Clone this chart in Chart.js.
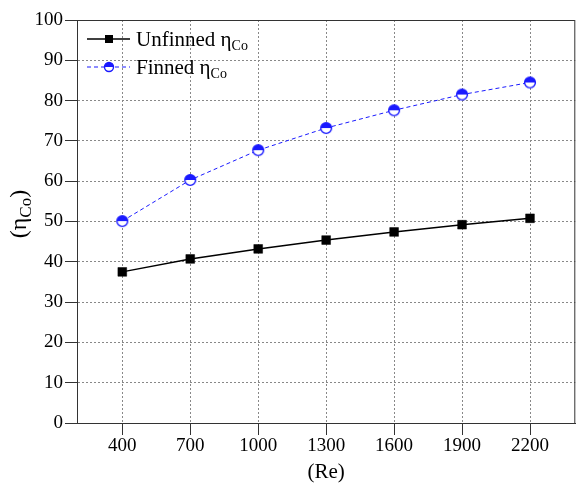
<!DOCTYPE html>
<html>
<head>
<meta charset="utf-8">
<script src="https://cdn.jsdelivr.net/npm/chart.js@4.4.0/dist/chart.umd.min.js"></script>
<style>
  html, body { margin: 0; padding: 0; background: #fff; }
</style>
</head>
<body>
<canvas id="effChart" width="582" height="488"></canvas>
<script>
// data
const reynolds = [400, 700, 1000, 1300, 1600, 1900, 2200];
const unfinnedEff = [37.5, 40.7, 43.2, 45.4, 47.4, 49.2, 50.8];
const finnedEff = [50.1, 60.3, 67.7, 73.2, 77.6, 81.5, 84.5];
const seriesNames = ["Unfinned", "Finned"];

const SERIF = "'Liberation Serif', 'DejaVu Serif', serif";
const BLUE = "#1a1aff";
const AXIS = "#333";

// half filled circle marker (top half blue)
function halfCircle(r) {
  const c = document.createElement("canvas");
  const s = Math.ceil(r * 2 + 3);
  c.width = s; c.height = s;
  const g = c.getContext("2d");
  const m = s / 2;
  g.fillStyle = "#fff";
  g.beginPath(); g.arc(m, m, r, 0, Math.PI * 2); g.fill();
  g.fillStyle = BLUE;
  g.beginPath(); g.arc(m, m, r, Math.PI, 0); g.closePath(); g.fill();
  g.strokeStyle = BLUE; g.lineWidth = 1.4;
  g.beginPath(); g.arc(m, m, r, 0, Math.PI * 2); g.stroke();
  return c;
}

// text with a subscript part
function subText(ctx, x, y, main, sub, size, subSize, drop) {
  ctx.font = size + "px " + SERIF;
  ctx.fillText(main, x, y);
  let w = ctx.measureText(main).width;
  ctx.font = subSize + "px " + SERIF;
  ctx.fillText(sub, x + w, y + drop);
  return w + ctx.measureText(sub).width;
}

const extras = {
  id: "extras",
  afterDraw(chart) {
    const { ctx, chartArea: a } = chart;
    ctx.save();
    // top and right frame
    ctx.strokeStyle = AXIS;
    ctx.lineWidth = 1;
    ctx.beginPath();
    ctx.moveTo(a.left, a.top + 0.5);
    ctx.lineTo(a.right - 0.5, a.top + 0.5);
    ctx.lineTo(a.right - 0.5, a.bottom);
    ctx.stroke();

    ctx.fillStyle = "#000";
    ctx.textBaseline = "alphabetic";

    // legend
    const lx = 87, rows = [46, 74];
    ctx.strokeStyle = "#000"; ctx.lineWidth = 1.5;
    ctx.beginPath(); ctx.moveTo(lx, rows[0] - 7); ctx.lineTo(lx + 43, rows[0] - 7); ctx.stroke();
    ctx.fillRect(lx + 18, rows[0] - 11, 8, 8);
    ctx.strokeStyle = BLUE; ctx.lineWidth = 1;
    ctx.setLineDash([4, 3]);
    ctx.beginPath(); ctx.moveTo(lx, rows[1] - 7); ctx.lineTo(lx + 43, rows[1] - 7); ctx.stroke();
    ctx.setLineDash([]);
    const mk = halfCircle(4.5);
    ctx.drawImage(mk, lx + 22 - mk.width / 2, rows[1] - 7 - mk.height / 2);
    ctx.fillStyle = "#000";
    ctx.textAlign = "left";
    subText(ctx, lx + 49, rows[0], seriesNames[0] + " η", "Co", 21, 14, 4);
    subText(ctx, lx + 49, rows[1], seriesNames[1] + " η", "Co", 21, 14, 4);

    // y axis title
    ctx.translate(26, 214);
    ctx.rotate(-Math.PI / 2);
    ctx.font = "24px " + SERIF;
    const w1 = ctx.measureText("(η").width;
    ctx.font = "17px " + SERIF;
    const w2 = ctx.measureText("Co").width;
    ctx.font = "24px " + SERIF;
    const w3 = ctx.measureText(")").width;
    let x = -(w1 + w2 + w3) / 2;
    subText(ctx, x, 0, "(η", "Co", 24, 17, 5);
    ctx.font = "24px " + SERIF;
    ctx.fillText(")", x + w1 + w2, 0);
    ctx.restore();
  }
};

new Chart(document.getElementById("effChart"), {
  type: "line",
  data: {
    datasets: [
      {
        label: seriesNames[0],
        data: reynolds.map((r, i) => ({ x: r, y: unfinnedEff[i] })),
        borderColor: "#000",
        borderWidth: 1.5,
        backgroundColor: "#000",
        pointStyle: "rect",
        pointRadius: 6.2,
        pointBorderWidth: 0.5,
        tension: 0,
      },
      {
        label: seriesNames[1],
        data: reynolds.map((r, i) => ({ x: r, y: finnedEff[i] })),
        borderColor: BLUE,
        borderWidth: 1,
        borderDash: [4, 3],
        pointStyle: halfCircle(5.4),
        tension: 0,
      },
    ],
  },
  options: {
    responsive: false,
    animation: false,
    layout: { padding: { top: 20, right: 5, left: 0, bottom: 0 } },
    plugins: {
      legend: { display: false },
      tooltip: { enabled: false },
    },
    scales: {
      x: {
        type: "linear",
        min: 200,
        max: 2400,
        afterBuildTicks: (scale) => {
          scale.ticks = reynolds.map((v) => ({ value: v }));
        },
        afterFit: (scale) => { scale.height = 65; },
        ticks: {
          color: "#000",
          font: { family: SERIF, size: 19 },
          padding: 0,
          maxRotation: 0,
          callback: (v) => String(v),
        },
        grid: {
          color: "#888",
          tickColor: AXIS,
          tickLength: 12,
          tickBorderDash: [],
        },
        border: { color: AXIS, width: 1, dash: [2, 2] },
        title: {
          display: true,
          text: "(Re)",
          color: "#000",
          font: { family: SERIF, size: 21 },
          padding: { top: 0, bottom: 3 },
        },
      },
      y: {
        min: 0,
        max: 100,
        afterFit: (scale) => { scale.width = 77; },
        ticks: {
          stepSize: 10,
          color: "#000",
          font: { family: SERIF, size: 19 },
          padding: 2,
        },
        grid: {
          color: "#888",
          tickColor: AXIS,
          tickLength: 12,
          tickBorderDash: [],
        },
        border: { color: AXIS, width: 1, dash: [2, 2] },
      },
    },
  },
  plugins: [extras],
});
</script>
</body>
</html>
